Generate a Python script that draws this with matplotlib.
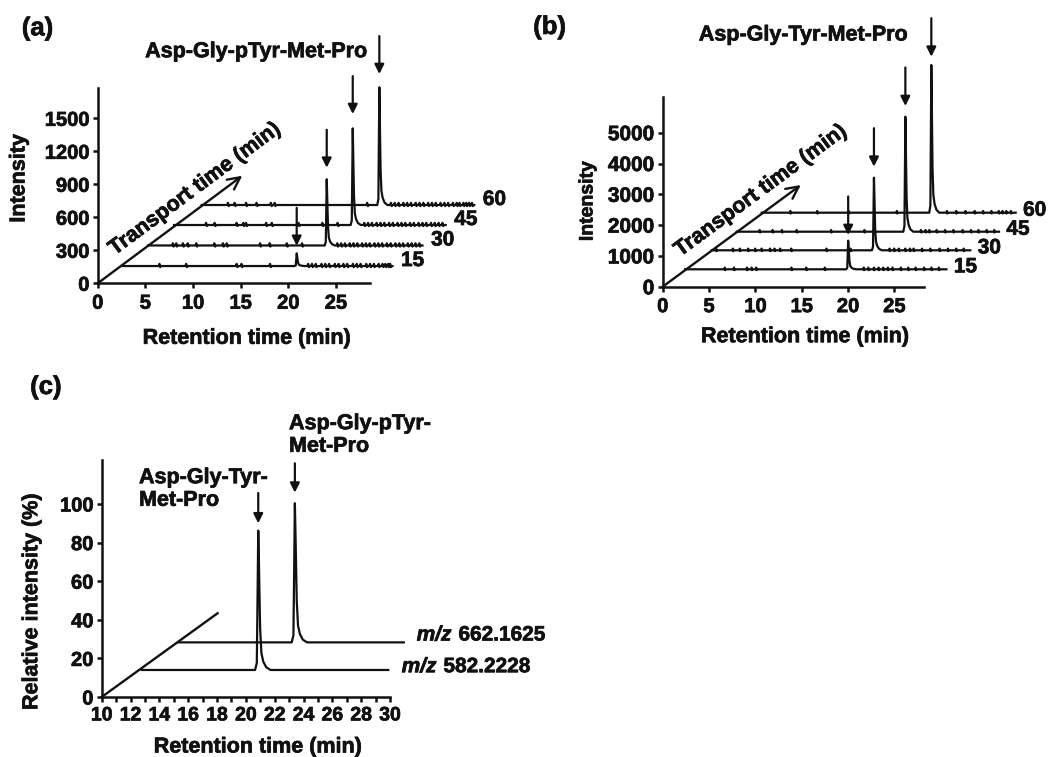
import matplotlib
matplotlib.use('Agg')
import matplotlib.pyplot as plt
import matplotlib.patheffects as pe
import numpy as np

plt.rcParams['font.family'] = ['Liberation Sans', 'DejaVu Sans']
plt.rcParams['font.weight'] = 'bold'
plt.rcParams['axes.labelweight'] = 'bold'

# ------------------------------------------------------------------ data
# Panel (a): Asp-Gly-pTyr-Met-Pro, four transport times
a_transport = [15, 30, 45, 60]
a_shift_rt = [2.62, 5.28, 8.01, 10.91]       # pseudo-3D depth offset (min)
a_shift_int = [157, 344, 530, 712]           # pseudo-3D depth offset (intensity)
a_peak_rt = [18.26, 18.75, 18.75, 18.64]
a_peak_int = [115, 602, 879, 1070]
a_end_rt = [28.3, 28.8, 28.5, 28.6]
a_noise_rt = [
    [3.9, 6.7, 12.0, 12.5, 15.5, 19.5, 19.9, 20.3, 20.9, 21.3, 21.7, 22.3, 22.7,
     23.2, 23.6, 24.2, 24.6, 25.0, 25.6, 26.0, 26.4, 26.9, 27.3, 27.6, 27.9, 28.1],
    [2.65, 3.0, 3.7, 4.2, 5.1, 7.0, 7.9, 8.3, 11.8, 12.8, 14.6, 16.2, 19.9, 20.3,
     20.7, 21.2, 21.6, 22.0, 22.5, 22.9, 23.3, 23.8, 24.2, 24.6, 25.1, 25.5, 26.0,
     26.4, 26.8, 27.3, 27.7, 28.1, 28.5],
    [3.4, 4.3, 6.6, 7.3, 7.6, 9.7, 10.3, 13.1, 15.6, 17.2, 20.0, 20.4, 20.8, 21.3,
     21.7, 22.1, 22.6, 23.0, 23.5, 23.9, 24.3, 24.8, 25.2, 25.7, 26.1, 26.5, 27.0,
     27.4, 27.8, 28.2],
    [2.8, 3.5, 4.7, 5.8, 7.3, 7.7, 17.4, 19.9, 20.3, 20.7, 21.2, 21.6, 22.0, 22.5,
     22.9, 23.3, 23.8, 24.2, 24.6, 25.1, 25.5, 25.9, 26.4, 26.8, 27.1, 27.5, 27.8,
     28.1, 28.4],
]
a_noise_int = 20
a_xticks = [0, 5, 10, 15, 20, 25]
a_yticks = [0, 300, 600, 900, 1200, 1500]
a_title = 'Asp-Gly-pTyr-Met-Pro'

# Panel (b): Asp-Gly-Tyr-Met-Pro
b_transport = [15, 30, 45, 60]
b_shift_rt = [2.41, 5.29, 7.98, 10.68]
b_shift_int = [565, 1182, 1786, 2403]
b_peak_rt = [17.6, 17.5, 18.2, 18.3]
b_peak_int = [929, 2357, 3734, 4795]
b_end_rt = [28.2, 27.9, 28.3, 27.4]
b_noise_rt = [
    [4.3, 5.3, 6.7, 7.2, 7.7, 11.5, 13.1, 15.1, 19.3, 19.8, 20.4, 20.9, 21.4, 21.9,
     22.4, 23.3, 24.1, 24.9, 25.8, 26.6, 27.4],
    [0.5, 2.3, 3.05, 3.95, 4.7, 5.4, 6.3, 6.8, 7.4, 8.6, 12.4, 15.0, 19.2, 19.7,
     20.2, 20.9, 21.4, 21.8, 22.7, 23.6, 24.6, 25.5, 26.4, 27.2],
    [2.5, 3.9, 4.9, 6.5, 10.2, 13.8, 19.9, 20.4, 20.8, 21.6, 22.5, 23.4, 24.4, 25.3,
     26.1, 27.0, 27.8],
    [3.1, 6.0, 9.4, 14.6, 20.0, 21.0, 22.0, 23.0, 23.9, 24.8, 25.6, 26.0, 26.4, 26.9],
]
b_noise_int = 55
b_xticks = [0, 5, 10, 15, 20, 25]
b_yticks = [0, 1000, 2000, 3000, 4000, 5000]
b_title = 'Asp-Gly-Tyr-Met-Pro'

# Panel (c): extracted ion chromatograms
c_labels = ['582.2228', '662.1625']
c_peptides = ['Asp-Gly-Tyr-\nMet-Pro', 'Asp-Gly-pTyr-\nMet-Pro']
c_start_rt = 10.0
c_shift_rt = [2.77, 5.31]
c_shift_int = [14.0, 28.3]
c_peak_rt = [18.09, 18.09]
c_peak_int = [72.2, 72.1]
c_end_rt = [27.11, 25.65]
c_xticks = [10, 12, 14, 16, 18, 20, 22, 24, 26, 28, 30]
c_yticks = [0, 20, 40, 60, 80, 100]

# peak profile (offset from apex in min, fraction of apex)
peak_dt = [-0.22, -0.1, -0.04, 0.0, 0.05, 0.13, 0.22, 0.35, 0.55, 0.85]
peak_rel = [0.0, 0.05, 0.6, 1.0, 0.75, 0.3, 0.12, 0.06, 0.02, 0.0]

# ------------------------------------------------------------------ layout
W, H = 1059, 757
fig = plt.figure(figsize=(W / 100, H / 100), dpi=100)

LW_SPINE = 1.8
LW_TRACE = 1.6
INK = '#111111'
HEAVY = [pe.withStroke(linewidth=0.5, foreground=INK)]


def fx(px):
    return px / W


def fy(py):
    return 1 - py / H


def make_axes(left, right, bottom, top):
    ax = fig.add_axes([fx(left), fy(bottom), fx(right - left), (bottom - top) / H])
    for s in ('top', 'right'):
        ax.spines[s].set_visible(False)
    for s in ('left', 'bottom'):
        ax.spines[s].set_linewidth(LW_SPINE)
        ax.spines[s].set_color(INK)
    ax.tick_params(direction='out', length=3.5, width=LW_SPINE, colors=INK,
                   labelsize=14.5, pad=2.5)
    ax.tick_params(axis='x', pad=4)
    ax.patch.set_alpha(0)
    return ax


def heavy_ticklabels(ax):
    for lab in ax.get_xticklabels() + ax.get_yticklabels():
        lab.set_path_effects(HEAVY)


def build_trace(start, end, prt, ph, noise_rt=(), noise_h=0, w=0.1):
    pts = [(start, 0.0), (end, 0.0)]
    pts += [(prt + d, ph * r) for d, r in zip(peak_dt, peak_rel)]
    for t in noise_rt:
        pts += [(t - w, 0.0), (t - w / 3, noise_h), (t + w / 3, -0.5 * noise_h),
                (t + w, 0.0)]
    pts.sort()
    t = np.array([p[0] for p in pts])
    y = np.array([p[1] for p in pts])
    return t, y


def down_arrow(ax, x, y_tip, y_tail):
    ax.annotate('', xy=(x, y_tip), xytext=(x, y_tail),
                arrowprops=dict(arrowstyle='-|>', mutation_scale=14, lw=1.6,
                                color=INK, shrinkA=0, shrinkB=0),
                annotation_clip=False)


def transport(ax, tip, text_xy):
    ax.annotate('', xy=tip, xytext=(0, 0),
                arrowprops=dict(arrowstyle='->', mutation_scale=22, lw=1.7,
                                color=INK, shrinkA=0, shrinkB=0),
                annotation_clip=False)
    p0 = ax.transData.transform((0, 0))
    p1 = ax.transData.transform(tip)
    ang = np.degrees(np.arctan2(p1[1] - p0[1], p1[0] - p0[0]))
    ax.text(text_xy[0], text_xy[1], 'Transport time (min)', rotation=ang,
            rotation_mode='anchor', ha='center', va='center', fontsize=15.5,
            fontweight='bold', color=INK, path_effects=HEAVY)


# ---------------- panel (a)
axa = make_axes(97.7, 370, 283.3, 88.3)
axa.set_xlim(0, 28.57)
axa.set_ylim(0, 1773)
axa.set_xticks(a_xticks)
axa.set_yticks(a_yticks)
heavy_ticklabels(axa)
transport(axa, (15.17, 978), (10.2, 857))
for i in range(len(a_transport)):
    t, y = build_trace(0, a_end_rt[i], a_peak_rt[i], a_peak_int[i],
                       a_noise_rt[i], a_noise_int, w=0.12)
    axa.plot(t + a_shift_rt[i], y + a_shift_int[i], color=INK, lw=LW_TRACE,
             clip_on=False)
    axa.text(a_end_rt[i] + a_shift_rt[i] + 0.9, a_shift_int[i] + 50,
             str(a_transport[i]), ha='left', va='center', fontsize=15,
             fontweight='bold', color=INK, clip_on=False, path_effects=HEAVY)
a_gap = [69, 105, 130, 121]
for i in range(len(a_transport)):
    xpk = a_peak_rt[i] + a_shift_rt[i]
    tip = a_shift_int[i] + a_peak_int[i] + a_gap[i]
    down_arrow(axa, xpk, tip, tip + 345)

# ---------------- panel (b)
axb = make_axes(662.7, 924, 286.7, 96.7)
axb.set_xlim(0, 28.19)
axb.set_ylim(0, 6169)
axb.set_xticks(b_xticks)
axb.set_yticks(b_yticks)
axb.tick_params(axis='y', labelsize=15)
heavy_ticklabels(axb)
transport(axb, (14.9, 3302), (10.58, 3114))
for i in range(len(b_transport)):
    t, y = build_trace(0, b_end_rt[i], b_peak_rt[i], b_peak_int[i],
                       b_noise_rt[i], b_noise_int, w=0.06)
    axb.plot(t + b_shift_rt[i], y + b_shift_int[i], color=INK, lw=LW_TRACE,
             clip_on=False)
    axb.text(b_end_rt[i] + b_shift_rt[i] + 0.8, b_shift_int[i] + 80,
             str(b_transport[i]), ha='left', va='center', fontsize=15,
             fontweight='bold', color=INK, clip_on=False, path_effects=HEAVY)
b_gap = [185, 357, 347, 270]
for i in range(len(b_transport)):
    xpk = b_peak_rt[i] + b_shift_rt[i]
    tip = b_shift_int[i] + b_peak_int[i] + b_gap[i]
    down_arrow(axb, xpk, tip, tip + 1250)

# ---------------- panel (c)
axc = make_axes(101.7, 390, 697, 460)
axc.set_xlim(10, 30)
axc.set_ylim(0, 122.8)
axc.set_xticks(c_xticks)
axc.set_xticks(np.arange(11, 30, 2), minor=True)
axc.tick_params(axis='x', which='minor', direction='out', length=3.5,
                width=LW_SPINE, colors=INK)
axc.tick_params(axis='x', labelsize=14)
axc.set_yticks(c_yticks)
heavy_ticklabels(axc)
axc.plot([10, 18.04], [0, 43.4], color=INK, lw=1.7, clip_on=False)
for i in range(len(c_labels)):
    t, y = build_trace(c_start_rt, c_end_rt[i], c_peak_rt[i], c_peak_int[i])
    axc.plot(t + c_shift_rt[i], y + c_shift_int[i], color=INK, lw=LW_TRACE,
             clip_on=False)
c_gap = [3.8, 5.5]
c_len = [15.7, 15.2]
for i in range(len(c_labels)):
    xpk = c_peak_rt[i] + c_shift_rt[i]
    tip = c_shift_int[i] + c_peak_int[i] + c_gap[i]
    down_arrow(axc, xpk, tip, tip + c_len[i])

# m/z labels: italic "m/z" followed by the upright value
renderer = fig.canvas.get_renderer()
for lbl, (px, py) in zip(c_labels, [(401.7, 666.7), (416.7, 635)]):
    t_it = fig.text(fx(px), fy(py), 'm/z', ha='left', va='center', fontsize=15,
                    fontweight='bold', style='italic', color=INK, path_effects=HEAVY)
    bb = t_it.get_window_extent(renderer=renderer)
    fig.text(fx(bb.x1 + 7), fy(py), lbl, ha='left', va='center', fontsize=15,
             fontweight='bold', color=INK, path_effects=HEAVY)

# peptide labels
fig.text(fx(139), fy(489), c_peptides[0], ha='left', va='center', fontsize=15.5,
         fontweight='bold', color=INK, linespacing=1.1, path_effects=HEAVY)
fig.text(fx(289), fy(435), c_peptides[1], ha='left', va='center', fontsize=15.5,
         fontweight='bold', color=INK, linespacing=1.1, path_effects=HEAVY)

# ---------------- titles, axis labels, panel letters
txt = dict(fontsize=15.5, fontweight='bold', color=INK, path_effects=HEAVY)
let = dict(fontsize=18.5, fontweight='bold', color=INK, path_effects=HEAVY)
fig.text(fx(37.5), fy(28.3), '(a)', ha='center', va='center', **let)
fig.text(fx(549.5), fy(27), '(b)', ha='center', va='center', **let)
fig.text(fx(45.8), fy(387), '(c)', ha='center', va='center', **let)
fig.text(fx(256.2), fy(51.7), a_title, ha='center', va='center', **txt)
fig.text(fx(803.3), fy(35), b_title, ha='center', va='center', **txt)
fig.text(fx(19), fy(178.3), 'Intensity', rotation=90, ha='center', va='center', **txt)
fig.text(fx(588), fy(201), 'Intensity', rotation=90, ha='center', va='center',
         fontsize=14, fontweight='bold', color=INK, path_effects=HEAVY)
fig.text(fx(31.7), fy(601.7), 'Relative intensity (%)', rotation=90, ha='center',
         va='center', **txt)
fig.text(fx(246.7), fy(338.3), 'Retention time (min)', ha='center', va='center', **txt)
fig.text(fx(805), fy(336.7), 'Retention time (min)', ha='center', va='center', **txt)
fig.text(fx(257.8), fy(747), 'Retention time (min)', ha='center', va='center', **txt)

fig.savefig('out.png', dpi=100)
